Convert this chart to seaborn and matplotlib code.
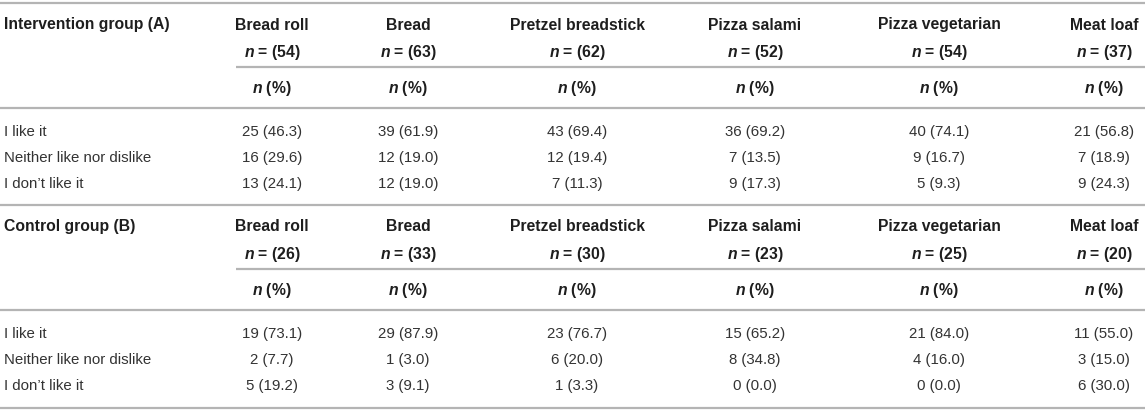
import matplotlib
matplotlib.use("Agg")
import matplotlib.pyplot as plt
import seaborn as sns

# table content
foods = ["Bread roll", "Bread", "Pretzel breadstick", "Pizza salami",
         "Pizza vegetarian", "Meat loaf"]
answers = ["I like it", "Neither like nor dislike", "I don\u2019t like it"]

group_a_title = "Intervention group (A)"
group_a_n = [54, 63, 62, 52, 54, 37]
group_a_counts = [[25, 39, 43, 36, 40, 21],
                  [16, 12, 12, 7, 9, 7],
                  [13, 12, 7, 9, 5, 9]]
group_a_pct = [[46.3, 61.9, 69.4, 69.2, 74.1, 56.8],
               [29.6, 19.0, 19.4, 13.5, 16.7, 18.9],
               [24.1, 19.0, 11.3, 17.3, 9.3, 24.3]]

group_b_title = "Control group (B)"
group_b_n = [26, 33, 30, 23, 25, 20]
group_b_counts = [[19, 29, 23, 15, 21, 11],
                  [2, 1, 6, 8, 4, 3],
                  [5, 3, 1, 0, 0, 6]]
group_b_pct = [[73.1, 87.9, 76.7, 65.2, 84.0, 55.0],
               [7.7, 3.0, 20.0, 34.8, 16.0, 15.0],
               [19.2, 9.1, 3.3, 0.0, 0.0, 30.0]]

sns.set_theme(style="white")
plt.rcParams["font.family"] = ["Liberation Sans", "DejaVu Sans"]
plt.rcParams["mathtext.fontset"] = "custom"
plt.rcParams["mathtext.it"] = "Liberation Sans:italic:bold"
plt.rcParams["mathtext.rm"] = "Liberation Sans:bold"

W, H = 1145, 414
col_x = [272, 408, 577, 755, 939, 1104]
line_color = "#b4b4b4"
text_color = "#333333"
head_color = "#1e1e1e"
fs = 10.8
fs_head = 11.3

fig = plt.figure(figsize=(W / 100, H / 100), dpi=100)
ax = fig.add_axes([0, 0, 1, 1])
ax.set_xlim(0, W)
ax.set_ylim(H, 0)
ax.axis("off")


def draw_block(y0, title, n_vals, counts, pct, top_line=True):
    if top_line:
        ax.hlines(y0, 0, W, color=line_color, lw=1.6)
    ax.text(4, y0 + 21, title, ha="left", va="center", fontsize=fs_head,
            fontweight="bold", color=head_color)
    for x, food, n in zip(col_x, foods, n_vals):
        ax.text(x, y0 + 21, food, ha="center", va="center", fontsize=fs_head,
                fontweight="bold", color=head_color)
        ax.text(x, y0 + 49, rf"$n$ = ({n})", ha="center", va="center",
                fontsize=fs_head, fontweight="bold", color=head_color)
        ax.text(x, y0 + 85, r"$n$ (%)", ha="center", va="center",
                fontsize=fs_head, fontweight="bold", color=head_color)
    ax.hlines(y0 + 64, 236, W, color=line_color, lw=1.6)
    ax.hlines(y0 + 105, 0, W, color=line_color, lw=1.6)
    for i, ans in enumerate(answers):
        y = y0 + 128 + i * 26
        ax.text(4, y, ans, ha="left", va="center", fontsize=fs,
                color=text_color)
        for j, x in enumerate(col_x):
            ax.text(x, y, f"{counts[i][j]} ({pct[i][j]:.1f})", ha="center",
                    va="center", fontsize=fs, color=text_color)


draw_block(4, group_a_title, group_a_n, group_a_counts, group_a_pct)
draw_block(206, group_b_title, group_b_n, group_b_counts, group_b_pct)
ax.hlines(409, 0, W, color=line_color, lw=1.6)

fig.savefig("out.png", dpi=100)
plt.close(fig)
